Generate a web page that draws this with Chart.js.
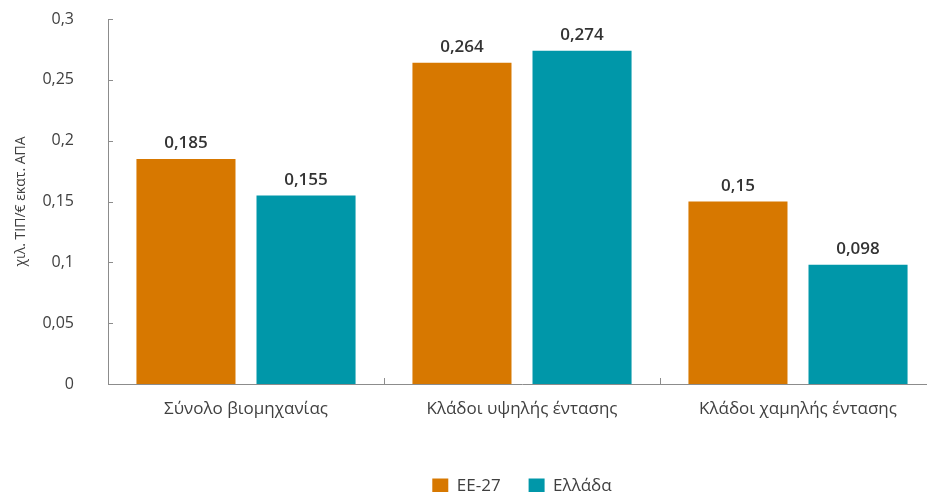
<!DOCTYPE html>
<html>
<head>
<meta charset="utf-8">
<script src="https://cdn.jsdelivr.net/npm/chart.js@4"></script>
<style>
  html, body { margin: 0; padding: 0; background: #fff; overflow: hidden; }
  #wrap { width: 940px; height: 492px; position: relative; }
</style>
</head>
<body>
<div id="wrap"><canvas id="chart"></canvas></div>
<script>
const categories = ['Σύνολο βιομηχανίας', 'Κλάδοι υψηλής έντασης', 'Κλάδοι χαμηλής έντασης'];
const eu27 = [0.185, 0.264, 0.15];
const greece = [0.155, 0.274, 0.098];
const yTicks = [0, 0.05, 0.1, 0.15, 0.2, 0.25, 0.3];

const textColor = '#404040';
const axisColor = '#8c8c8c';
const fontFamily = '"Open Sans", "Noto Sans", sans-serif';

function fmt(v) {
  return String(v).replace('.', ',');
}

// short tick marks drawn inside the plot, like the original
const innerTicks = {
  id: 'innerTicks',
  afterDraw(chart) {
    const { ctx, chartArea, scales } = chart;
    ctx.save();
    ctx.strokeStyle = axisColor;
    ctx.lineWidth = 1;
    ctx.beginPath();
    yTicks.forEach((t) => {
      const y = Math.round(scales.y.getPixelForValue(t)) + 0.5;
      ctx.moveTo(chartArea.left, y);
      ctx.lineTo(chartArea.left + 5, y);
    });
    for (let i = 0; i <= categories.length; i++) {
      const x = Math.round(scales.x.getPixelForValue(i - 0.5)) + 0.5;
      ctx.moveTo(x, chartArea.bottom);
      ctx.lineTo(x, chartArea.bottom - 6);
    }
    ctx.stroke();
    ctx.restore();
  },
};

const valueLabels = {
  id: 'valueLabels',
  afterDatasetsDraw(chart) {
    const { ctx } = chart;
    ctx.save();
    ctx.font = `600 17px ${fontFamily}`;
    ctx.fillStyle = '#333';
    ctx.textAlign = 'center';
    ctx.textBaseline = 'bottom';
    chart.data.datasets.forEach((ds, i) => {
      chart.getDatasetMeta(i).data.forEach((bar, j) => {
        ctx.fillText(fmt(ds.data[j]), bar.x, bar.y - 7);
      });
    });
    ctx.restore();
  },
};

// legend sits centred under the plot area rather than the whole canvas
const legendUnderPlot = {
  id: 'legendUnderPlot',
  afterLayout(chart) {
    const lg = chart.legend;
    const shift = (chart.chartArea.left + chart.chartArea.right) / 2 - (lg.left + lg.right) / 2;
    lg.left += shift;
    lg.right += shift;
    if (lg.legendHitBoxes) lg.legendHitBoxes.forEach((b) => { b.left += shift; });
  },
};

new Chart(document.getElementById('chart'), {
  type: 'bar',
  data: {
    labels: categories,
    datasets: [
      { label: 'ΕΕ-27', data: eu27, backgroundColor: '#d77800' },
      { label: 'Ελλάδα', data: greece, backgroundColor: '#0097a9' },
    ],
  },
  options: {
    responsive: true,
    maintainAspectRatio: false,
    animation: false,
    devicePixelRatio: 1,
    categoryPercentage: 0.87,
    barPercentage: 0.825,
    layout: { padding: { top: 19, right: 4, left: 0, bottom: -13 } },
    scales: {
      x: {
        afterFit: (scale) => { scale.height = 66; },
        grid: { display: false, drawTicks: false },
        border: { color: axisColor, width: 1 },
        ticks: { color: textColor, font: { family: fontFamily, size: 17 }, padding: 15 },
      },
      y: {
        min: 0,
        max: 0.3,
        afterFit: (scale) => {
          scale.width = 108;
          scale.paddingTop = 0;
          scale.paddingBottom = 0;
        },
        afterBuildTicks: (scale) => { scale.ticks = yTicks.map((v) => ({ value: v })); },
        grid: { display: false, drawTicks: false },
        border: { color: axisColor, width: 1 },
        ticks: {
          color: textColor,
          padding: 34,
          font: { family: fontFamily, size: 16 },
          callback: (v) => fmt(v),
        },
        title: {
          display: true,
          text: 'χιλ. ΤΙΠ/€ εκατ. ΑΠΑ',
          color: textColor,
          font: { family: fontFamily, size: 14 },
          padding: { top: 13, bottom: 0 },
        },
      },
    },
    plugins: {
      legend: {
        position: 'bottom',
        labels: {
          color: textColor,
          font: { family: fontFamily, size: 17 },
          boxWidth: 16,
          boxHeight: 16,
          padding: 28,
        },
      },
      tooltip: { enabled: false },
    },
  },
  plugins: [innerTicks, valueLabels, legendUnderPlot],
});
</script>
</body>
</html>
